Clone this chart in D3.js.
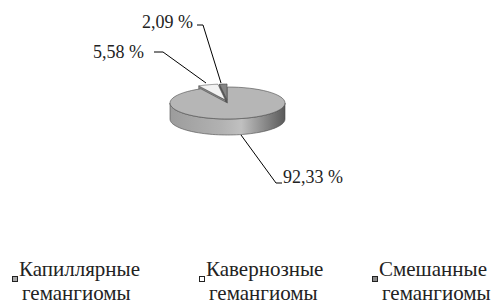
<!DOCTYPE html>
<html>
<head>
<meta charset="utf-8">
<script src="https://cdn.jsdelivr.net/npm/d3@7"></script>
<style>
  body { margin: 0; background: #fff; }
</style>
</head>
<body>
<svg width="502" height="306"></svg>
<script>
// data
var categories = ["Капиллярные гемангиомы", "Кавернозные гемангиомы", "Смешанные гемангиомы"];
var values = [92.33, 5.58, 2.09];
var valueLabels = ["92,33 %", "5,58 %", "2,09 %"];
var colors = ["#b6b6b6", "#f2f2f2", "#858585"];
var sideColors = ["#9a9a9a", "#8c8c8c", "#5a5a5a"];
var legendColors = ["#a9a9a9", "#ffffff", "#8a8a8a"];

var font = "Liberation Serif";
var svg = d3.select("svg"),
    cx = 227.5, cy = 103, rx = 57.5, ry = 16, depth = 16,
    explode = 0.12;

var pie = d3.pie().sort(null).value(function (d) { return d; });
var arcs = pie(values);

// gradient for the front wall
var defs = svg.append("defs");
var grad = defs.append("linearGradient").attr("id", "side").attr("x1", "0").attr("x2", "1");
grad.append("stop").attr("offset", "0%").attr("stop-color", "#9c9c9c");
grad.append("stop").attr("offset", "45%").attr("stop-color", "#b2b2b2");
grad.append("stop").attr("offset", "62%").attr("stop-color", "#c0c0c0");
grad.append("stop").attr("offset", "100%").attr("stop-color", "#5a5a5a");

function pt(a, ox, oy, dz) {
    return [cx + ox + rx * Math.sin(a), cy + oy - ry * Math.cos(a) + (dz || 0)];
}
function offset(d, i) {
    if (i === 0) return [0, 0];
    var m = (d.startAngle + d.endAngle) / 2;
    return [rx * explode * Math.sin(m), -ry * explode * Math.cos(m) * 1.6];
}
function topPath(d, i) {
    var o = offset(d, i), p = [[cx + o[0], cy + o[1]]];
    d3.range(0, 61).forEach(function (k) {
        p.push(pt(d.startAngle + (d.endAngle - d.startAngle) * k / 60, o[0], o[1]));
    });
    return "M" + p.join("L") + "Z";
}
function sidePath(d, i) {
    var o = offset(d, i);
    var a0 = Math.max(d.startAngle, Math.PI / 2), a1 = Math.min(d.endAngle, 3 * Math.PI / 2);
    if (a1 <= a0) return null;
    var up = [], down = [];
    d3.range(0, 61).forEach(function (k) {
        var a = a0 + (a1 - a0) * k / 60;
        up.push(pt(a, o[0], o[1]));
        down.push(pt(a, o[0], o[1], depth));
    });
    return "M" + up.concat(down.reverse()).join("L") + "Z";
}
function facePath(d, i) {
    // cut face of an exploded slice, seen from the front left
    var o = offset(d, i);
    var c = [cx + o[0], cy + o[1]], e = pt(d.startAngle, o[0], o[1]);
    return "M" + [c, e, [e[0], e[1] + depth], [c[0], c[1] + depth]].join("L") + "Z";
}

var g = svg.append("g").attr("stroke", "#4a4a4a").attr("stroke-width", 0.6).attr("stroke-linejoin", "round");

// back slices first
[2, 1].forEach(function (i) {
    var d = arcs[i];
    g.append("path").attr("d", facePath(d, i)).attr("fill", sideColors[i]);
    g.append("path").attr("d", topPath(d, i)).attr("fill", colors[i]);
});
// big slice
g.append("path").attr("d", sidePath(arcs[0], 0)).attr("fill", "url(#side)");
g.append("path").attr("d", topPath(arcs[0], 0)).attr("fill", colors[0]);

// labels with leader lines
var labels = [
    { i: 0, tx: 283, ty: 183, anchor: "start", line: [[241, 135], [276, 183], [282, 183]] },
    { i: 1, tx: 144, ty: 58, anchor: "end", line: [[154, 52], [163, 52], [206, 83]] },
    { i: 2, tx: 193, ty: 28, anchor: "end", line: [[197, 25], [203, 25], [221, 83]] }
];
labels.forEach(function (l) {
    svg.append("path")
        .attr("d", d3.line()(l.line))
        .attr("fill", "none")
        .attr("stroke", "#000")
        .attr("stroke-width", 1);
    svg.append("text")
        .attr("x", l.tx).attr("y", l.ty)
        .attr("text-anchor", l.anchor)
        .style("font-family", font)
        .attr("font-size", 18)
        .attr("fill", "#222")
        .text(valueLabels[l.i]);
});

// legend
var legendX = [12, 199, 372];
var legend = svg.append("g").selectAll("g")
    .data(categories)
    .enter().append("g")
    .attr("transform", function (d, i) { return "translate(" + legendX[i] + ",0)"; });

legend.append("rect")
    .attr("x", 0.5).attr("y", 276.5)
    .attr("width", 5).attr("height", 5)
    .attr("fill", function (d, i) { return legendColors[i]; })
    .attr("stroke", "#222").attr("stroke-width", 1);

legend.append("text")
    .style("font-family", font)
    .attr("font-size", 21)
    .attr("fill", "#222")
    .selectAll("tspan")
    .data(function (d) { return d.split(" "); })
    .enter().append("tspan")
    .attr("x", function (d, j) { return j === 0 ? 7 : 10; })
    .attr("y", function (d, j) { return j === 0 ? 276 : 300; })
    .text(function (d) { return d; });
</script>
</body>
</html>
